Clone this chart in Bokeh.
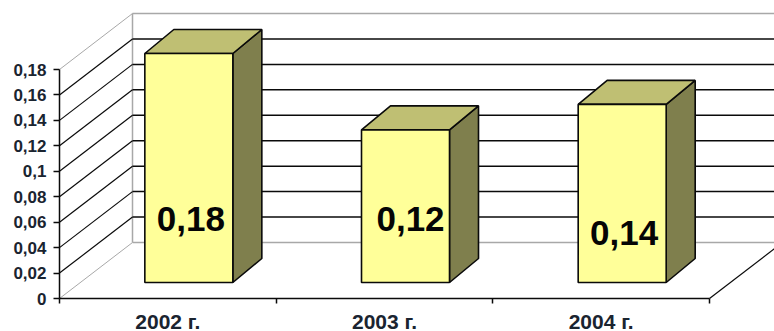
from bokeh.core.properties import value
from bokeh.embed import file_html
from bokeh.models import FixedTicker, Range1d
from bokeh.plotting import figure
from bokeh.resources import INLINE

# Chart data
categories = ["2002 г.", "2003 г.", "2004 г."]
values = [0.18, 0.12, 0.14]
value_labels = ["0,18", "0,12", "0,14"]
y_ticks = [0, 0.02, 0.04, 0.06, 0.08, 0.1, 0.12, 0.14, 0.16, 0.18]
y_tick_labels = ["0", "0,02", "0,04", "0,06", "0,08", "0,1", "0,12", "0,14", "0,16", "0,18"]

# Oblique projection of the 3D box, in screen pixels
WIDTH, HEIGHT = 774, 331
LEFT, BASE = 59, 298
PX_PER_CAT = 216.67
PX_PER_VAL = 229 / 0.18
WALL_DX, WALL_DY = 73, 56
BAR_DX, BAR_DY = 21, 16
BAR_W = 88
SIDE_DX, SIDE_DY = 29, 24
FONT = "Liberation Sans"
INK = "#0a0a0a"
WALL = "#a8a8a8"
LABEL_NUDGE = [2, 5, 2]
LABEL_ROW = [218, 218, 232]


def dx(px):
    return px / PX_PER_CAT


def dy(px):
    return px / PX_PER_VAL


# The frame fills the whole canvas; both axes are pinned at zero inside it
p = figure(
    width=WIDTH, height=HEIGHT, output_backend="svg", toolbar_location=None,
    x_range=Range1d(dx(-LEFT), dx(WIDTH - LEFT)),
    y_range=Range1d(dy(BASE - HEIGHT), dy(BASE)),
    min_border_left=0, min_border_right=0, min_border_top=0, min_border_bottom=0,
)
p.outline_line_color = None
p.grid.visible = False

n = len(categories)
top = y_ticks[-1]
wall_right = dx(WIDTH - LEFT)

# Back wall and floor outlines
p.line([dx(WALL_DX)] * 2, [dy(WALL_DY), top + dy(WALL_DY)], line_color=WALL, line_width=1.5)
p.segment([dx(WALL_DX)] * 2, [dy(WALL_DY), top + dy(WALL_DY)],
          [wall_right] * 2, [dy(WALL_DY), top + dy(WALL_DY)],
          line_color=WALL, line_width=1.5)
p.segment([0, 0], [0, top], [dx(WALL_DX)] * 2, [dy(WALL_DY), top + dy(WALL_DY)],
          line_color=WALL, line_width=1)

# Gridlines running along the side wall and the back wall
inner = y_ticks[1:-1]
p.segment([0] * len(inner), inner, [dx(WALL_DX)] * len(inner), [v + dy(WALL_DY) for v in inner],
          line_color=INK, line_width=1.2)
p.segment([dx(WALL_DX)] * len(inner), [v + dy(WALL_DY) for v in inner],
          [wall_right] * len(inner), [v + dy(WALL_DY) for v in inner],
          line_color=INK, line_width=1.5)

# Front-right edge of the floor
p.segment([n], [0], [n + dx(WALL_DX)], [dy(WALL_DY)], line_color=INK, line_width=1.2)

# Boxes: side face, top face, then front face
for i, v in enumerate(values):
    x0 = i + 0.5 + dx(BAR_DX) - dx(BAR_W) / 2
    x1 = x0 + dx(BAR_W)
    y0 = dy(BAR_DY)
    y1 = y0 + v
    sx, sy = dx(SIDE_DX), dy(SIDE_DY)
    p.patch([x1, x1 + sx, x1 + sx, x1], [y0, y0 + sy, y1 + sy, y1],
            fill_color="#7f7f4d", line_color=INK, line_width=1.6)
    p.patch([x0, x1, x1 + sx, x0 + sx], [y1, y1, y1 + sy, y1 + sy],
            fill_color="#bfbf73", line_color=INK, line_width=1.6)
    p.patch([x0, x1, x1, x0], [y0, y0, y1, y1],
            fill_color="#ffff99", line_color=INK, line_width=1.6)

# Value labels inside the front faces
label_x = [i + 0.5 + dx(BAR_DX + LABEL_NUDGE[i]) for i in range(n)]
label_y = [dy(BASE - row) for row in LABEL_ROW]
p.text(label_x, label_y, text=value_labels, text_align="center", text_baseline="middle",
       text_color="#050505", text_font=value(FONT), text_font_style="bold", text_font_size="35px")

yaxis = p.yaxis[0]
yaxis.fixed_location = 0
yaxis.ticker = FixedTicker(ticks=y_ticks)
yaxis.major_label_overrides = dict(zip(y_ticks, y_tick_labels))
yaxis.bounds = (0, top)
yaxis.axis_line_color = INK
yaxis.axis_line_width = 1.5
yaxis.major_tick_line_color = INK
yaxis.major_tick_line_width = 1.5
yaxis.major_tick_in = 0
yaxis.major_tick_out = 6
yaxis.minor_tick_line_color = None
yaxis.major_label_standoff = 7
yaxis.major_label_text_font = FONT
yaxis.major_label_text_font_style = "bold"
yaxis.major_label_text_font_size = "17px"
yaxis.major_label_text_color = "#1a2430"

# Category names sit on major ticks at mid-slot; the visible marks are the slot boundaries
centres = [i + 0.5 for i in range(n)]
xaxis = p.xaxis[0]
xaxis.fixed_location = 0
xaxis.ticker = FixedTicker(ticks=centres, minor_ticks=list(range(n + 1)))
xaxis.major_label_overrides = dict(zip(centres, categories))
xaxis.bounds = (0, n)
xaxis.axis_line_color = INK
xaxis.axis_line_width = 1.5
xaxis.major_tick_line_color = None
xaxis.major_tick_in = 0
xaxis.major_tick_out = 0
xaxis.minor_tick_line_color = INK
xaxis.minor_tick_line_width = 1.5
xaxis.minor_tick_in = 0
xaxis.minor_tick_out = 5
xaxis.major_label_standoff = 6
xaxis.major_label_text_font = FONT
xaxis.major_label_text_font_style = "bold"
xaxis.major_label_text_font_size = "21px"
xaxis.major_label_text_color = "#1a2430"

open("out.html", "w").write(file_html(p, INLINE))
